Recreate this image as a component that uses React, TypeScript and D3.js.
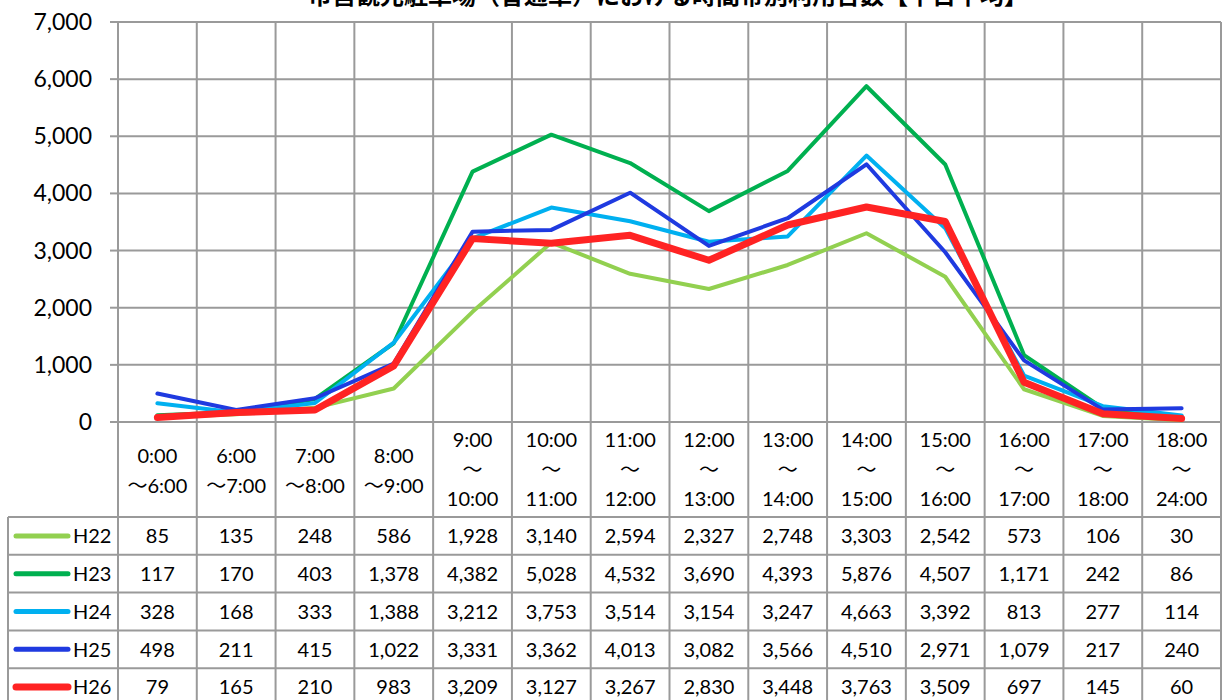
import React from "react";
import * as d3 from "d3";

const categoriesTop = ["0:00", "6:00", "7:00", "8:00", "9:00", "10:00", "11:00", "12:00", "13:00", "14:00", "15:00", "16:00", "17:00", "18:00"];
const categoriesBottom = ["6:00", "7:00", "8:00", "9:00", "10:00", "11:00", "12:00", "13:00", "14:00", "15:00", "16:00", "17:00", "18:00", "24:00"];
const seriesNames = ["H22", "H23", "H24", "H25", "H26"];
const h22 = [85, 135, 248, 586, 1928, 3140, 2594, 2327, 2748, 3303, 2542, 573, 106, 30];
const h23 = [117, 170, 403, 1378, 4382, 5028, 4532, 3690, 4393, 5876, 4507, 1171, 242, 86];
const h24 = [328, 168, 333, 1388, 3212, 3753, 3514, 3154, 3247, 4663, 3392, 813, 277, 114];
const h25 = [498, 211, 415, 1022, 3331, 3362, 4013, 3082, 3566, 4510, 2971, 1079, 217, 240];
const h26 = [79, 165, 210, 983, 3209, 3127, 3267, 2830, 3448, 3763, 3509, 697, 145, 60];
const yTicks = [0, 1000, 2000, 3000, 4000, 5000, 6000, 7000];
const title = "市営観光駐車場（普通車）における時間帯別利用台数【平日平均】";

const seriesValues = [h22, h23, h24, h25, h26];
const colors = ["#92D050", "#00B050", "#00B0F0", "#1F3AE0", "#FF2323"];
const widths = [4, 4, 4, 4, 7];

export default function App() {
  const W = 1222, H = 700;
  const left = 118, right = 1221, top = 22, bottom = 422;
  const n = categoriesTop.length;
  const xb = d3.scaleLinear().domain([0, n]).range([left, right]);
  const x = (i: number) => xb(i + 0.5);
  const y = d3.scaleLinear().domain([0, 7000]).range([bottom, top]);
  const fmt = d3.format(",");
  const line = d3.line<number>().x((_, i) => x(i)).y((d) => y(d));
  const grid = "#9a9a9a";
  const rowTop = 517;
  const rowH = 37.8;
  const font = "Lato, 'Noto Sans CJK JP', sans-serif";

  return (
    <svg width={W} height={H} style={{ position: "absolute", left: 0, top: 0, background: "#fff" }} fontFamily={font}>
      <rect x={0} y={0} width={W} height={H} fill="#fff" />
      <text x={668} y={4} textAnchor="middle" fontSize={24} fontWeight="bold" fontFamily="'Noto Sans CJK JP', sans-serif" fill="#000">{title}</text>
      {/* horizontal gridlines */}
      {yTicks.map((t) => (
        <line key={"h" + t} x1={t === 0 ? 110 : left} x2={right} y1={y(t)} y2={y(t)} stroke={grid} strokeWidth={2} />
      ))}
      {yTicks.map((t) => (
        <line key={"tk" + t} x1={110} x2={left} y1={y(t)} y2={y(t)} stroke={grid} strokeWidth={2} />
      ))}
      {/* vertical lines through plot and header */}
      {d3.range(n + 1).map((i) => (
        <line key={"v" + i} x1={xb(i)} x2={xb(i)} y1={top} y2={H} stroke={grid} strokeWidth={2} />
      ))}
      {/* y labels */}
      {yTicks.map((t) => (
        <text key={"yl" + t} x={92} y={y(t)} dy="0.35em" textAnchor="end" fontSize={23} fill="#000">{fmt(t)}</text>
      ))}
      {/* table rows */}
      <line x1={8} x2={8} y1={rowTop} y2={H} stroke={grid} strokeWidth={2} />
      {d3.range(seriesNames.length + 1).map((r) => (
        <line key={"r" + r} x1={8} x2={right} y1={rowTop + r * rowH} y2={rowTop + r * rowH} stroke={grid} strokeWidth={2} />
      ))}
      {/* header labels */}
      {categoriesTop.map((c, i) =>
        i < 4 ? (
          <g key={"c" + i}>
            <text x={x(i)} y={463} textAnchor="middle" fontSize={20} fill="#000">{c}</text>
            <text x={x(i)} y={493} textAnchor="middle" fontSize={20} fill="#000">{"～" + categoriesBottom[i]}</text>
          </g>
        ) : (
          <g key={"c" + i}>
            <text x={x(i)} y={447} textAnchor="middle" fontSize={20} fill="#000">{c}</text>
            <text x={x(i)} y={477} textAnchor="middle" fontSize={20} fill="#000">～</text>
            <text x={x(i)} y={506} textAnchor="middle" fontSize={20} fill="#000">{categoriesBottom[i]}</text>
          </g>
        )
      )}
      {/* table values */}
      {seriesValues.map((vals, s) => {
        const cy = rowTop + s * rowH + rowH / 2;
        return (
          <g key={"row" + s}>
            <line x1={16} x2={68} y1={cy} y2={cy} stroke={colors[s]} strokeWidth={s === 4 ? 7 : 5} strokeLinecap="round" />
            <text x={73} y={cy} dy="0.36em" fontSize={20} fill="#000">{seriesNames[s]}</text>
            {vals.map((v, i) => (
              <text key={i} x={x(i)} y={cy} dy="0.36em" textAnchor="middle" fontSize={20} fill="#000">{fmt(v)}</text>
            ))}
          </g>
        );
      })}
      {/* lines */}
      {seriesValues.map((vals, s) => (
        <path key={"l" + s} d={line(vals) || ""} fill="none" stroke={colors[s]} strokeWidth={widths[s]} strokeLinejoin="round" strokeLinecap="round" />
      ))}
    </svg>
  );
}
